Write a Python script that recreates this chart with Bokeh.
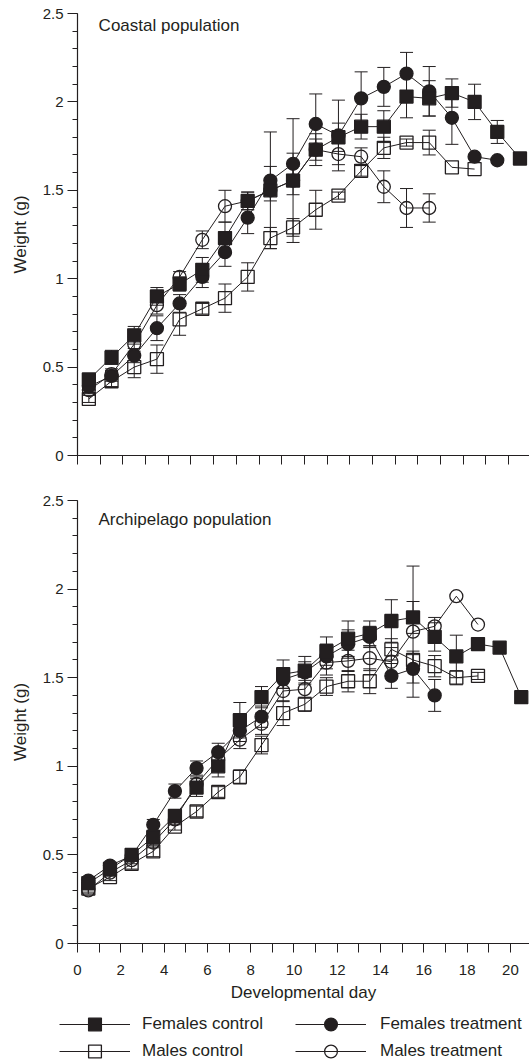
from bokeh.plotting import figure
from bokeh.models import (Range1d, FixedTicker, Whisker, TeeHead, ColumnDataSource,
                          Label, Legend, LegendItem)
from bokeh.layouts import column
from bokeh.embed import file_html
from bokeh.resources import INLINE

# ---------------- data ----------------
days = [0.5, 1.5, 2.5, 3.5, 4.5, 5.5, 6.5, 7.5, 8.5, 9.5, 10.5,
        11.5, 12.5, 13.5, 14.5, 15.5, 16.5, 17.5, 18.5, 19.5, 20.5]

series_labels = ["Females control", "Females treatment", "Males control", "Males treatment"]

# Coastal population (mean weight, g) and error bars
coastal_fc = [0.43, 0.555, 0.68, 0.90, 0.97, 1.05, 1.23, 1.44, 1.50, 1.555, 1.73,
              1.80, 1.86, 1.86, 2.03, 2.02, 2.05, 2.00, 1.83, 1.68]
coastal_fc_se = [0.03, 0.04, 0.05, 0.05, 0.04, 0.07, 0.09, 0.05, 0.06, 0.08, 0.09,
                 0.08, 0.07, 0.09, 0.12, 0.10, 0.08, 0.10, 0.065, 0.0]
coastal_ft = [0.39, 0.45, 0.565, 0.72, 0.86, 1.01, 1.15, 1.345, 1.555, 1.65, 1.875,
              1.81, 2.02, 2.085, 2.16, 2.06, 1.91, 1.69, 1.67]
coastal_ft_se = [0.02, 0.03, 0.04, 0.07, 0.05, 0.06, 0.08, 0.09, 0.08, 0.06, 0.17,
                 0.20, 0.15, 0.11, 0.12, 0.14, 0.15, 0.0, 0.0]
coastal_mc = [0.32, 0.42, 0.50, 0.545, 0.77, 0.83, 0.89, 1.01, 1.23, 1.29, 1.39,
              1.47, 1.61, 1.74, 1.77, 1.77, 1.63, 1.62]
coastal_mc_se = [0.02, 0.03, 0.06, 0.08, 0.09, 0.03, 0.08, 0.08, 0.06, 0.05, 0.11,
                 0.02, 0.03, 0.06, 0.02, 0.07, 0.0, 0.0]
coastal_mt = [0.37, 0.46, 0.63, 0.85, 1.01, 1.22, 1.41, 1.44, 1.50, 1.555, 1.73,
              1.705, 1.69, 1.52, 1.40, 1.40]
coastal_mt_se = [0.02, 0.03, 0.04, 0.05, 0.03, 0.05, 0.09, 0.05, 0.33, 0.35, 0.06,
                 0.06, 0.05, 0.09, 0.11, 0.08]

# Archipelago population
arch_fc = [0.34, 0.42, 0.50, 0.60, 0.72, 0.88, 1.00, 1.26, 1.39, 1.52, 1.54,
           1.65, 1.72, 1.75, 1.82, 1.84, 1.73, 1.62, 1.69, 1.67, 1.39]
arch_fc_se = [0.02, 0.02, 0.02, 0.03, 0.03, 0.05, 0.06, 0.10, 0.06, 0.08, 0.08,
              0.08, 0.10, 0.07, 0.12, 0.09, 0.08, 0.12, 0.0, 0.0, 0.0]
arch_ft = [0.355, 0.44, 0.495, 0.67, 0.86, 0.99, 1.08, 1.20, 1.28, 1.49, 1.53,
           1.62, 1.69, 1.73, 1.51, 1.55, 1.40]
arch_ft_se = [0.02, 0.02, 0.02, 0.03, 0.04, 0.04, 0.05, 0.06, 0.06, 0.05, 0.06,
              0.07, 0.08, 0.06, 0.07, 0.08, 0.09]
arch_mc = [0.31, 0.375, 0.45, 0.52, 0.66, 0.745, 0.855, 0.94, 1.12, 1.30, 1.35,
           1.45, 1.48, 1.48, 1.66, 1.60, 1.565, 1.50, 1.51]
arch_mc_se = [0.02, 0.02, 0.03, 0.03, 0.02, 0.03, 0.03, 0.04, 0.05, 0.07, 0.04,
              0.05, 0.06, 0.07, 0.06, 0.05, 0.06, 0.04, 0.02]
arch_mt = [0.30, 0.40, 0.47, 0.57, 0.70, 0.90, 1.04, 1.15, 1.24, 1.425, 1.435,
           1.585, 1.595, 1.61, 1.59, 1.76, 1.79, 1.96, 1.80]
arch_mt_se = [0.02, 0.02, 0.02, 0.03, 0.03, 0.04, 0.05, 0.05, 0.06, 0.06, 0.05,
              0.07, 0.06, 0.07, 0.08, 0.37, 0.05, 0.0, 0.0]

y_ticks = [0, 0.5, 1, 1.5, 2, 2.5]
y_tick_labels = ["0", "0.5", "1", "1.5", "2", "2.5"]
y_minor_ticks = [i / 10 for i in range(26)]
x_major_ticks = [0, 2, 4, 6, 8, 10, 12, 14, 16, 18, 20]
x_minor_ticks = [1, 3, 5, 7, 9, 11, 13, 15, 17, 19]
x_all_ticks = list(range(0, 21))

panel_titles = ["Coastal population", "Archipelago population"]
x_label = "Developmental day"
y_label = "Weight (g)"

# ---------------- style ----------------
INK = "#231f20"
FONT = "Liberation Sans"
MARKERS = [("square", True), ("circle", True), ("square", False), ("circle", False)]


def style_axes(p, show_x_labels):
    p.outline_line_color = None
    p.xgrid.visible = False
    p.ygrid.visible = False
    ya = p.yaxis[0]
    ya.ticker = FixedTicker(ticks=y_ticks, minor_ticks=y_minor_ticks)
    ya.major_label_overrides = dict(zip(y_ticks, y_tick_labels))
    ya.major_tick_out = 10
    ya.major_tick_in = 0
    ya.minor_tick_out = 5
    ya.minor_tick_in = 0
    ya.major_label_standoff = 4
    ya.axis_label = y_label
    ya.axis_label_standoff = 10
    xa = p.xaxis[0]
    if show_x_labels:
        xa.ticker = FixedTicker(ticks=x_major_ticks, minor_ticks=x_minor_ticks)
    else:
        # unlabeled axis: every day is a (label-free) minor tick
        xa.ticker = FixedTicker(ticks=[], minor_ticks=x_all_ticks)
    xa.major_tick_out = 9
    xa.major_tick_in = 0
    xa.minor_tick_out = 9
    xa.minor_tick_in = 0
    xa.major_label_standoff = 12
    for ax in (xa, ya):
        ax.axis_line_color = INK
        ax.axis_line_width = 1.2
        ax.major_tick_line_color = INK
        ax.minor_tick_line_color = INK
        ax.major_label_text_font = FONT
        ax.major_label_text_font_size = "15px"
        ax.major_label_text_color = INK
        ax.axis_label_text_font = FONT
        ax.axis_label_text_font_size = "17px"
        ax.axis_label_text_font_style = "normal"
        ax.axis_label_text_color = INK
    if show_x_labels:
        xa.axis_label = x_label
        xa.axis_label_standoff = 5


def draw_series(p, values, errors, with_errors=True):
    order = [2, 3, 1, 0]
    if with_errors:
        for i in order:
            vals, se = values[i], errors[i]
            xs = days[:len(vals)]
            wx = [x for x, e in zip(xs, se) if e > 0]
            lo = [v - e for v, e in zip(vals, se) if e > 0]
            hi = [v + e for v, e in zip(vals, se) if e > 0]
            src = ColumnDataSource(dict(x=wx, lo=lo, hi=hi))
            p.add_layout(Whisker(source=src, base="x", lower="lo", upper="hi",
                                 dimension="height", line_color=INK, line_width=1,
                                 lower_head=TeeHead(size=13, line_color=INK, line_width=1),
                                 upper_head=TeeHead(size=13, line_color=INK, line_width=1)))
    rends = {}
    for i in order:
        vals = values[i]
        marker, filled = MARKERS[i]
        xs = days[:len(vals)]
        ln = p.line(xs, vals, line_color=INK, line_width=1)
        sc = p.scatter(xs, vals, marker=marker, size=13,
                       fill_color=INK if filled else None, line_color=INK, line_width=1.3)
        rends[i] = [ln, sc]
    return rends


# ---------------- top panel ----------------
p1 = figure(width=529, height=480, x_range=Range1d(0, 19.92), y_range=Range1d(0, 2.5),
            output_backend="svg", toolbar_location=None,
            min_border_left=77, min_border_right=0, min_border_top=13, min_border_bottom=25)
style_axes(p1, False)
draw_series(p1, [coastal_fc, coastal_ft, coastal_mc, coastal_mt],
            [coastal_fc_se, coastal_ft_se, coastal_mc_se, coastal_mt_se])
p1.add_layout(Label(x=0.93, y=2.43, text=panel_titles[0], text_font=FONT,
                    text_font_size="17px", text_color=INK, text_baseline="middle"))

# ---------------- bottom panel ----------------
p2 = figure(width=529, height=525, x_range=Range1d(0, 20.88), y_range=Range1d(0, 2.5),
            output_backend="svg", toolbar_location=None,
            min_border_left=77, min_border_right=0, min_border_top=20, min_border_bottom=62)
style_axes(p2, True)
draw_series(p2, [arch_fc, arch_ft, arch_mc, arch_mt],
            [arch_fc_se, arch_ft_se, arch_mc_se, arch_mt_se])
p2.add_layout(Label(x=0.97, y=2.39, text=panel_titles[1], text_font=FONT,
                    text_font_size="17px", text_color=INK, text_baseline="middle"))

# ---------------- legend strip ----------------
# same series drawn into a strip whose ranges keep them out of view; only the
# legend entries are visible here.
pl = figure(width=529, height=56, x_range=Range1d(100, 101), y_range=Range1d(100, 101),
            x_axis_type=None, y_axis_type=None, output_backend="svg",
            toolbar_location=None, min_border=0)
pl.frame_align = False
pl.outline_line_color = None
pl.xgrid.visible = False
pl.ygrid.visible = False
lrends = draw_series(pl, [arch_fc, arch_ft, arch_mc, arch_mt], None, with_errors=False)
items = [LegendItem(label=lab, renderers=lrends[i]) for i, lab in enumerate(series_labels)]

# (column x, row y) of each entry: two columns, two rows
legend_slots = [((59, 21), 12), ((295, 21), 14), ((59, -6), 12), ((295, -6), 14)]
for item, (loc, standoff) in zip(items, legend_slots):
    pl.add_layout(Legend(items=[item], location=loc, orientation="vertical",
                         glyph_width=71, glyph_height=32, label_height=20, spacing=0,
                         label_standoff=standoff, padding=0, margin=0,
                         border_line_color=None, background_fill_alpha=0,
                         label_text_font=FONT, label_text_font_size="17px",
                         label_text_color=INK))

layout = column(p1, p2, pl)
open("out.html", "w").write(file_html(layout, INLINE))
